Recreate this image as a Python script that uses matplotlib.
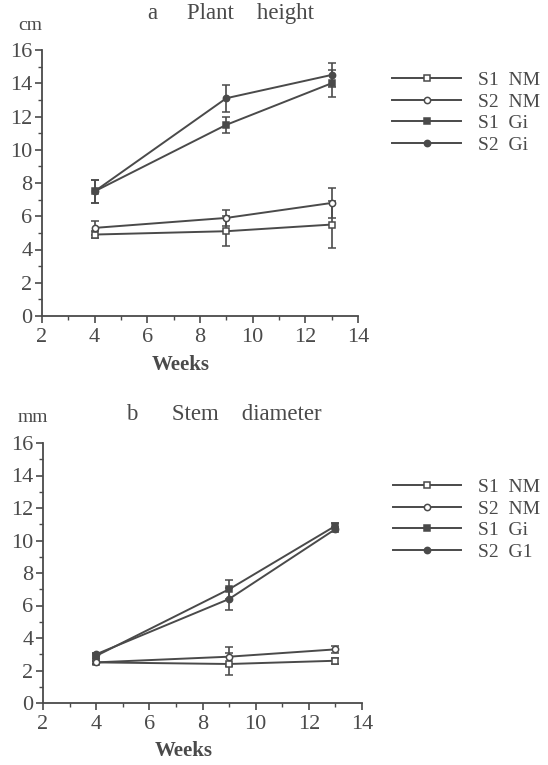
import matplotlib.pyplot as plt
from matplotlib.ticker import MultipleLocator
from matplotlib.lines import Line2D

plt.rcParams['font.family'] = 'Liberation Serif'

weeks = [4, 9, 13]
labels_a = ['S1  NM', 'S2  NM', 'S1  Gi', 'S2  Gi']
labels_b = ['S1  NM', 'S2  NM', 'S1  Gi', 'S2  G1']

# plant height (cm)
height = {
    'S1 NM': [4.9, 5.1, 5.5],
    'S2 NM': [5.3, 5.9, 6.8],
    'S1 Gi': [7.5, 11.5, 14.0],
    'S2 Gi': [7.5, 13.1, 14.5],
}
height_err = {
    'S1 NM': [0.2, 0.9, 1.4],
    'S2 NM': [0.4, 0.5, 0.9],
    'S1 Gi': [0.7, 0.5, 0.8],
    'S2 Gi': [0.7, 0.8, 0.7],
}

# stem diameter (mm)
diam = {
    'S1 NM': [2.5, 2.4, 2.6],
    'S2 NM': [2.5, 2.85, 3.3],
    'S1 Gi': [2.9, 7.0, 10.9],
    'S2 Gi': [3.0, 6.4, 10.7],
}
diam_err = {
    'S1 NM': [0.1, 0.7, 0.2],
    'S2 NM': [0.1, 0.6, 0.2],
    'S1 Gi': [0.1, 0.6, 0.15],
    'S2 Gi': [0.1, 0.7, 0.15],
}

col = '#4a4a4a'
styles = {
    'S1 NM': dict(marker='s', mfc='white'),
    'S2 NM': dict(marker='o', mfc='white'),
    'S1 Gi': dict(marker='s', mfc=col),
    'S2 Gi': dict(marker='o', mfc=col),
}

W, H = 548, 765
fig = plt.figure(figsize=(W / 100, H / 100), dpi=100)


def panel(box, data, err, unit, title, unit_xy, title_xy, labels, leg_y):
    l, t, r, b = box
    ax = fig.add_axes([l / W, 1 - b / H, (r - l) / W, (b - t) / H])
    for key in data:
        ax.errorbar(weeks, data[key], yerr=err[key], color=col, lw=1.4,
                    ms=4.5, mec=col, mew=1.1, capsize=3, elinewidth=1.2,
                    **styles[key])
    ax.set_xlim(2, 14)
    ax.set_ylim(0, 16)
    ax.xaxis.set_major_locator(MultipleLocator(2))
    ax.xaxis.set_minor_locator(MultipleLocator(1))
    ax.yaxis.set_major_locator(MultipleLocator(2))
    ax.yaxis.set_minor_locator(MultipleLocator(1))
    for s in ['top', 'right']:
        ax.spines[s].set_visible(False)
    for s in ['left', 'bottom']:
        ax.spines[s].set_color(col)
        ax.spines[s].set_linewidth(1.3)
    ax.tick_params(which='both', direction='out', color=col, labelcolor=col,
                   labelsize=16)
    ax.tick_params(axis='y', pad=2)
    ax.tick_params(which='major', length=5, width=1.2)
    ax.tick_params(which='minor', length=3, width=1)
    ax.set_xlabel('Weeks', fontsize=15, color=col, fontweight='bold')
    ax.xaxis.set_label_coords(0.44, -0.145)
    fig.text(unit_xy[0] / W, 1 - unit_xy[1] / H, unit, fontsize=14,
             color=col, va='center')
    fig.text(title_xy[0] / W, 1 - title_xy[1] / H, title, fontsize=16.5,
             color=col, va='center')
    handles = [Line2D([], [], color=col, lw=1.4, ms=4.5, mec=col, mew=1.1,
                      **styles[k]) for k in data]
    ax.legend(handles, labels, loc='upper left', frameon=False,
              bbox_to_anchor=((375 - l) / (r - l), (b - leg_y) / (b - t)),
              bbox_transform=ax.transAxes, fontsize=14, handlelength=3.5,
              labelspacing=0.2, handletextpad=0.9, labelcolor=col)
    return ax


panel((42, 50, 358, 316), height, height_err, 'cm',
      'a     Plant    height', (18, 25), (148, 14), labels_a, 54)
panel((43, 443, 362, 703), diam, diam_err, 'mm',
      'b      Stem    diameter', (18, 418), (126, 415), labels_b, 461)

fig.savefig('out.png', dpi=100)
